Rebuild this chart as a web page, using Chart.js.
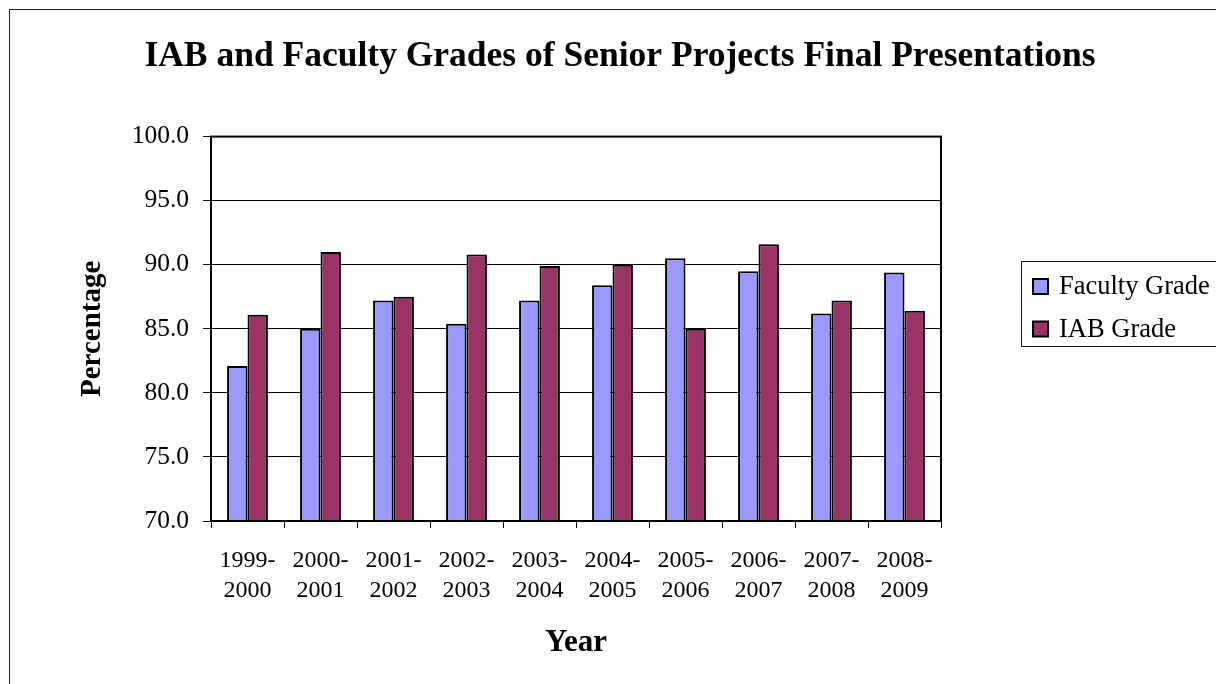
<!DOCTYPE html>
<html>
<head>
<meta charset="utf-8">
<script src="https://cdn.jsdelivr.net/npm/chart.js@4.4.1/dist/chart.umd.min.js"></script>
<style>
  html, body { margin: 0; padding: 0; background: #fff; }
  #wrap { width: 1216px; height: 684px; }
</style>
</head>
<body>
<div id="wrap"><canvas id="c" width="1216" height="684"></canvas></div>
<script>
const chartTitle = "IAB and Faculty Grades of Senior Projects Final Presentations";
const categories = [
  ["1999-", "2000"], ["2000-", "2001"], ["2001-", "2002"], ["2002-", "2003"], ["2003-", "2004"],
  ["2004-", "2005"], ["2005-", "2006"], ["2006-", "2007"], ["2007-", "2008"], ["2008-", "2009"]
];
const facultyGrade = [82.1, 85.0, 87.2, 85.4, 87.2, 88.4, 90.5, 89.5, 86.2, 89.4];
const iabGrade     = [86.1, 91.0, 87.5, 90.8, 89.9, 90.0, 85.0, 91.6, 87.2, 86.4];
const seriesNames = ["Faculty Grade", "IAB Grade"];
const seriesColors = ["#9999FF", "#993366"];
const yMin = 70, yMax = 100, yStep = 5;

const SERIF = "'Liberation Serif', 'Times New Roman', serif";

const framePlugin = {
  id: 'frame',
  beforeDraw(chart) {
    const ctx = chart.ctx;
    ctx.save();
    ctx.fillStyle = '#fff';
    ctx.fillRect(0, 0, chart.width, chart.height);
    ctx.strokeStyle = '#222';
    ctx.lineWidth = 1;
    ctx.strokeRect(9.5, 9.5, 1400, 1000);
    ctx.restore();
  },
  afterDraw(chart) {
    const ctx = chart.ctx;
    const a = chart.chartArea;
    ctx.save();
    ctx.strokeStyle = '#000';
    ctx.lineWidth = 2;
    ctx.strokeRect(a.left, a.top, a.right - a.left, a.bottom - a.top);
    // legend
    ctx.lineWidth = 1;
    ctx.strokeStyle = '#111';
    ctx.strokeRect(1021.5, 261.5, 400, 85);
    ctx.font = "26.5px " + SERIF;
    ctx.textBaseline = 'alphabetic';
    ctx.textAlign = 'left';
    chart.data.datasets.forEach((ds, i) => {
      const cy = 286 + i * 42.5;
      ctx.fillStyle = ds.backgroundColor;
      ctx.fillRect(1033, cy - 7, 15, 15);
      ctx.lineWidth = 2;
      ctx.strokeStyle = '#000';
      ctx.strokeRect(1033, cy - 7, 15, 15);
      ctx.fillStyle = '#000';
      ctx.fillText(ds.label, 1059, cy + 8);
    });
    ctx.restore();
  }
};

new Chart(document.getElementById('c'), {
  type: 'bar',
  data: {
    labels: categories,
    datasets: [
      { label: seriesNames[0], data: facultyGrade, backgroundColor: seriesColors[0], borderColor: '#000', borderWidth: 2, yAxisID: 'y' },
      { label: seriesNames[1], data: iabGrade, backgroundColor: seriesColors[1], borderColor: '#000', borderWidth: 2, yAxisID: 'y' }
    ]
  },
  options: {
    responsive: false,
    animation: false,
    devicePixelRatio: 1,
    datasets: { bar: { categoryPercentage: 0.56, barPercentage: 1.0 } },
    layout: { padding: { left: 24, right: 0, top: 0, bottom: 0 } },
    plugins: {
      legend: { display: false },
      tooltip: { enabled: false },
      title: {
        display: true,
        text: chartTitle,
        color: '#000',
        font: { family: SERIF, size: 35.5, weight: 'bold', lineHeight: 1.2 },
        padding: { top: 36, bottom: 58 }
      }
    },
    scales: {
      x: {
        grid: { display: true, drawOnChartArea: false, drawTicks: true, tickLength: 7, color: '#000', offset: true },
        border: { display: false },
        ticks: { color: '#000', font: { family: SERIF, size: 24, lineHeight: 1.25 }, padding: 18, maxRotation: 0, autoSkip: false },
        title: { display: true, text: 'Year', color: '#000', font: { family: SERIF, size: 31, weight: 'bold', lineHeight: 1.2 }, padding: { top: 0, bottom: 22 } },
        afterFit(s) { s.height = 163; }
      },
      y: {
        min: yMin, max: yMax,
        grid: { color: '#000', lineWidth: 1, drawTicks: true, tickLength: 8, tickColor: '#000' },
        border: { display: false },
        ticks: { stepSize: yStep, color: '#000', font: { family: SERIF, size: 25.5 }, padding: 14, callback: v => Number(v).toFixed(1) },
        title: { display: true, text: 'Percentage', color: '#000', font: { family: SERIF, size: 29, weight: 'bold', lineHeight: 1.2 }, padding: { top: 51, bottom: 0 } },
        afterFit(s) { s.width = 187; }
      },
      yRight: {
        type: 'linear', position: 'right', display: true,
        grid: { display: false, drawTicks: false },
        border: { display: false },
        ticks: { display: false },
        afterFit(s) { s.width = 275; }
      }
    }
  },
  plugins: [framePlugin]
});
</script>
</body>
</html>
